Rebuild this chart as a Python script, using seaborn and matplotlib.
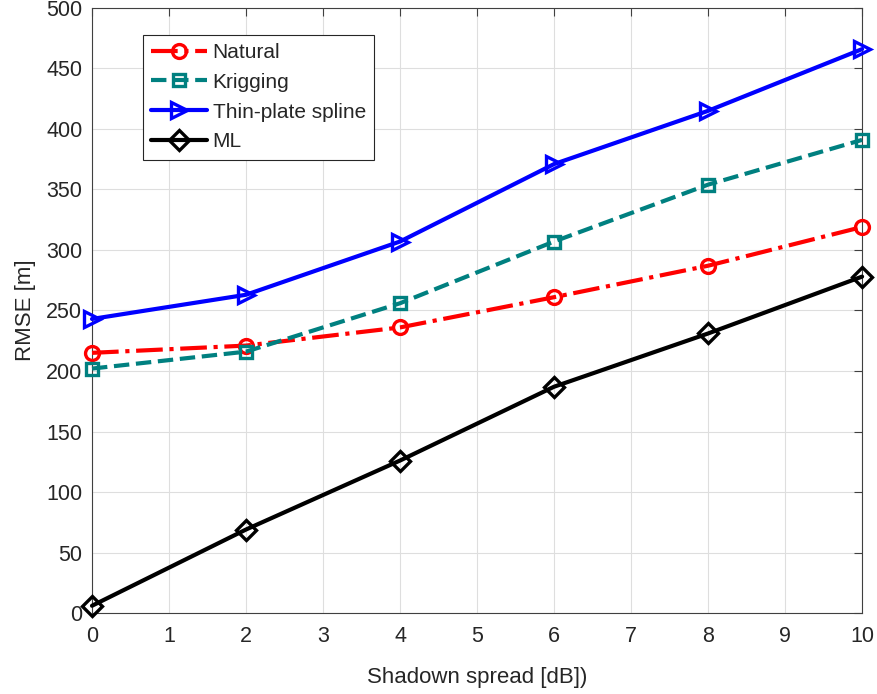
import matplotlib
matplotlib.use("Agg")
import matplotlib.pyplot as plt
import seaborn as sns
import pandas as pd

x_vals = [0, 2, 4, 6, 8, 10]
natural = [215, 221, 236, 261, 287, 319]
kriging = [202, 216, 256, 307, 354, 391]
thin_plate = [243, 263, 307, 371, 415, 466]
ml = [6, 69, 126, 187, 231, 278]
series_names = ["Natural", "Krigging", "Thin-plate spline", "ML"]

sns.set_style("white")
plt.rcParams['font.family'] = ['Liberation Sans', 'DejaVu Sans']

fig = plt.figure(figsize=(8.77, 6.94), dpi=100)
ax = fig.add_axes([0.1049, 0.1167, 0.983 - 0.1049, 0.9885 - 0.1167])

styles = [
    dict(color="red", marker="o", linestyle="-."),
    dict(color="#008080", marker="s", linestyle="--"),
    dict(color="blue", marker=">", linestyle="-"),
    dict(color="black", marker="D", linestyle="-"),
]
sizes = [10, 9, 12, 10]
for name, vals, st, ms in zip(series_names, [natural, kriging, thin_plate, ml], styles, sizes):
    df = pd.DataFrame({"x": x_vals, "y": vals})
    sns.lineplot(data=df, x="x", y="y", ax=ax, label=name, color=st["color"],
                 marker=st["marker"], linestyle=st["linestyle"], linewidth=3.0,
                 markersize=ms, markerfacecolor="none", markeredgecolor=st["color"],
                 markeredgewidth=2.4, clip_on=False, zorder=3)

ax.set_xlim(0, 10)
ax.set_ylim(0, 500)
ax.set_xticks(range(0, 11))
ax.set_yticks(range(0, 501, 50))
ax.grid(True, color="#dedede", linewidth=0.8)
ax.tick_params(direction="in", length=6, width=0.8, color="#404040", labelsize=15.5,
               labelcolor="#262626", top=True, right=True, pad=7)
ax.tick_params(axis="x", pad=9)
for sp in ax.spines.values():
    sp.set_visible(True)
    sp.set_color("#404040")
    sp.set_linewidth(0.8)
ax.set_xlabel("Shadown spread [dB])", fontsize=16, color="#262626", labelpad=15)
ax.set_ylabel("RMSE [m]", fontsize=16, color="#262626", labelpad=7)

leg = ax.legend(loc="upper left", bbox_to_anchor=(0.066, 0.956), fontsize=15,
                frameon=True, fancybox=False, edgecolor="#262626", framealpha=1,
                handlelength=2.7, borderpad=0.4, labelspacing=0.52, handletextpad=0.25,
                borderaxespad=0)
leg.get_frame().set_linewidth(0.8)

fig.savefig("out.png", dpi=100)
